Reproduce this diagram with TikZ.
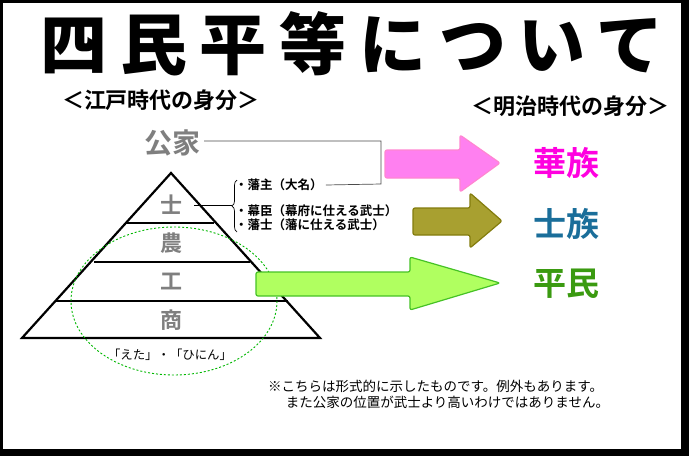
\documentclass[tikz,border=0pt]{standalone}
\usepackage{fontspec}
\newfontfamily\cjk{Noto Sans CJK JP}
\newfontfamily\cjkb{Noto Sans CJK JP Bold}
\newfontfamily\cjkt[LetterSpace=19]{Noto Sans CJK JP Black}
\usetikzlibrary{decorations.pathreplacing}
\definecolor{gtxt}{HTML}{7F7F7F}
\definecolor{pinkA}{HTML}{FF80F0}
\definecolor{oliveA}{HTML}{A8A030}
\definecolor{greenA}{HTML}{B0FF60}
\definecolor{kazoku}{HTML}{FF00E0}
\definecolor{shizoku}{HTML}{1A6E9A}
\definecolor{heimin}{HTML}{3A9A10}
\begin{document}
\begin{tikzpicture}[x=1pt,y=-1pt,
  lvl/.style={font=\cjkb\fontsize{22}{22}\selectfont,text=gtxt,inner sep=0},
  small/.style={font=\cjkb\fontsize{12.5}{13}\selectfont,inner sep=0,anchor=west},
  big/.style={font=\cjkb\fontsize{33}{33}\selectfont,inner sep=0},
  bar/.style={line width=2.2pt},
  arr/.style={line width=1.2pt,rounded corners=2pt,line join=round}]
\useasboundingbox (0,0) rectangle (689,456);
\fill[black] (0,0) rectangle (689,456);
\fill[white] (3,3) rectangle (681,449);
% title
\node[font=\cjkt\fontsize{67}{67}\selectfont,inner sep=0] (title) at (352,44) {四民平等について};
\node[font=\cjkb\fontsize{22}{22}\selectfont,inner sep=0] (edo) at (161,100) {＜江戸時代の身分＞};
\node[font=\cjkb\fontsize{22}{22}\selectfont,inner sep=0] (meiji) at (570,106) {＜明治時代の身分＞};
% pyramid
\coordinate (ap) at (171,173); \coordinate (bl) at (22,338); \coordinate (br) at (320,338);
\draw[bar,line join=miter] (bl) -- (ap) -- (br) -- cycle;
\draw[bar] (125,223) -- (214,223);
\draw[bar] (94,262) -- (250,262);
\draw[bar] (55,301) -- (288,301);
\node[lvl] (shi) at (171,205) {士};
\node[lvl] (nou) at (171,243) {農};
\node[lvl] (kou) at (171,282) {工};
\node[lvl] (sho) at (171,320) {商};
\node[font=\cjk\fontsize{12.4}{12.4}\selectfont,inner sep=0] (eta) at (170,355) {「えた」・「ひにん」};
\node[lvl,font=\cjkb\fontsize{28}{28}\selectfont] (kuge) at (172,143) {公家};
\draw[green!60!black!70!green,line width=0.9pt,dash pattern=on 2pt off 2pt] (174,301) ellipse [x radius=103, y radius=74];
% right side labels
\node[small] (hanshu) at (235,185) {・藩主（大名）};
\node[small] (bakushin) at (235,211) {・幕臣（幕府に仕える武士）};
\node[small] (hanshi) at (235,225) {・藩士（藩に仕える武士）};
\draw[decorate,decoration={brace,amplitude=5pt,mirror},line width=0.7pt] (237,180) -- (237,232);
\coordinate (bk) at (232,205);
\draw[line width=0.7pt] (shi.east)+(12,0) -- (bk);
\coordinate (c1) at (381,141); \coordinate (c2) at (381,184);
\draw[gray!60!black,line width=0.7pt] (kuge.east)+(4,-2) -- (c1) -- (c2) -- ([xshift=3pt]hanshu.east);
% arrows
\draw[arr,fill=pinkA,draw=pink!70!magenta] (385,150) -- (460,150) -- (460,135) -- (500,163) -- (460,192) -- (460,178) -- (385,178) -- cycle;
\draw[arr,fill=oliveA,draw=olive!90!black] (413,208) -- (470,208) -- (470,193) -- (502,221) -- (470,248) -- (470,235) -- (413,235) -- cycle;
\draw[arr,fill=greenA,draw=green!60!black!60!greenA] (256,272) -- (410,272) -- (410,257) -- (500,283) -- (410,310) -- (410,296) -- (256,296) -- cycle;
\node[big,text=kazoku] (kazoku) at (566,163) {華族};
\node[big,text=shizoku] (shizoku) at (566,224) {士族};
\node[big,text=heimin] (heimin) at (566,284) {平民};
% note
\node[font=\cjk\fontsize{13.5}{16}\selectfont,inner sep=0,align=left,anchor=north west] (note) at (268,380) {※こちらは形式的に示したものです。例外もあります。\\\hspace*{1.3em}また公家の位置が武士より高いわけではありません。};
\end{tikzpicture}
\end{document}
